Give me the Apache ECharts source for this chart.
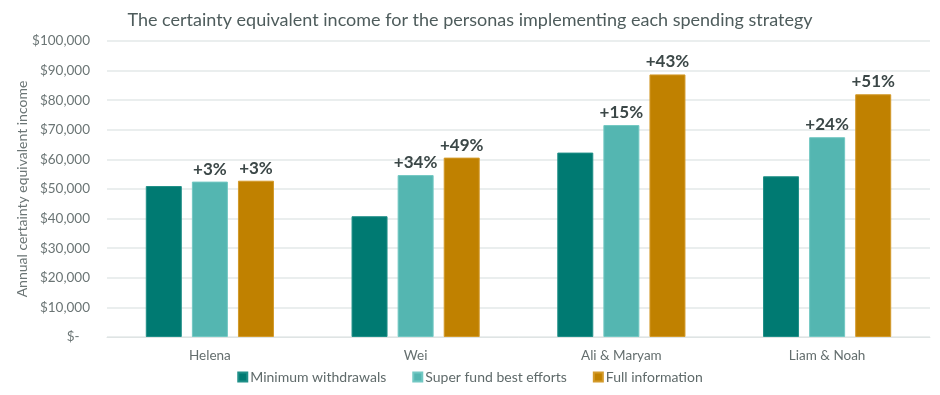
<!DOCTYPE html>
<html><head><meta charset="utf-8">
<script src="https://cdn.jsdelivr.net/npm/echarts@6/dist/echarts.min.js"></script>
<style>html,body{margin:0;padding:0;background:#fff}#c{width:940px;height:395px}</style>
</head><body><div id="c"></div>
<script>
const categories = ["Helena", "Wei", "Ali & Maryam", "Liam & Noah"];
const seriesNames = ["Minimum withdrawals", "Super fund best efforts", "Full information"];
const minWithdrawals = [51000, 40800, 62300, 54300];
const superFund = [52500, 54700, 71600, 67500];
const fullInfo = [52800, 60600, 88700, 82000];
const superFundLabels = ["+3%", "+34%", "+15%", "+24%"];
const fullInfoLabels = ["+3%", "+49%", "+43%", "+51%"];
const yTicks = [0, 10000, 20000, 30000, 40000, 50000, 60000, 70000, 80000, 90000, 100000];

const font = "Lato, 'Noto Sans', sans-serif";
const chart = echarts.init(document.getElementById('c'), null, {renderer: 'canvas'});
function lbl(arr) {
  return {
    show: true, position: 'top', distance: 4,
    formatter: p => arr[p.dataIndex],
    fontFamily: font, fontWeight: 'bold', fontSize: 17, color: '#3b4747'
  };
}
chart.setOption({
  animation: false,
  title: {
    text: 'The certainty equivalent income for the personas implementing each spending strategy',
    left: 'center', top: 6,
    textStyle: {fontFamily: font, fontWeight: 'normal', fontSize: 18, color: '#4e5c5c'}
  },
  legend: {
    bottom: 6, left: 'center', itemWidth: 9, itemHeight: 9, itemGap: 26,
    icon: 'rect',
    textStyle: {fontFamily: font, fontSize: 14, color: '#5f6a6a', padding: [0, 0, 0, -2]},
    data: seriesNames
  },
  grid: {left: 107, right: 10, top: 41, bottom: 58},
  xAxis: {
    type: 'category', data: categories,
    axisLine: {lineStyle: {color: '#dfe4e4', width: 1}},
    axisTick: {show: false},
    axisLabel: {fontFamily: font, fontSize: 13.5, color: '#646e6e', margin: 12}
  },
  yAxis: {
    type: 'value', min: yTicks[0], max: yTicks[yTicks.length - 1], interval: 10000,
    name: 'Annual certainty equivalent income', nameLocation: 'middle', nameGap: 78,
    nameMoveOverlap: false,
    nameTextStyle: {fontFamily: font, fontSize: 14, color: '#6b7575'},
    axisLine: {show: false}, axisTick: {show: false},
    splitLine: {lineStyle: {color: '#e3e8e8', width: 1.5}},
    axisLabel: {
      fontFamily: font, fontSize: 13.5, color: '#6b7575', margin: 17,
      formatter: v => v === 0 ? '$-   ' : '$' + v.toLocaleString('en-US')
    }
  },
  series: [
    {name: seriesNames[0], type: 'bar', data: minWithdrawals, barWidth: 36, barGap: '28%',
     itemStyle: {color: '#007a72', borderColor: '#1f8f88', borderWidth: 1}},
    {name: seriesNames[1], type: 'bar', data: superFund, barWidth: 36, barGap: '28%',
     itemStyle: {color: '#54b6b1', borderColor: '#72c8c3', borderWidth: 1}, label: lbl(superFundLabels)},
    {name: seriesNames[2], type: 'bar', data: fullInfo, barWidth: 36, barGap: '28%',
     itemStyle: {color: '#c08100', borderColor: '#d39a2a', borderWidth: 1}, label: lbl(fullInfoLabels)}
  ]
});
</script></body></html>
